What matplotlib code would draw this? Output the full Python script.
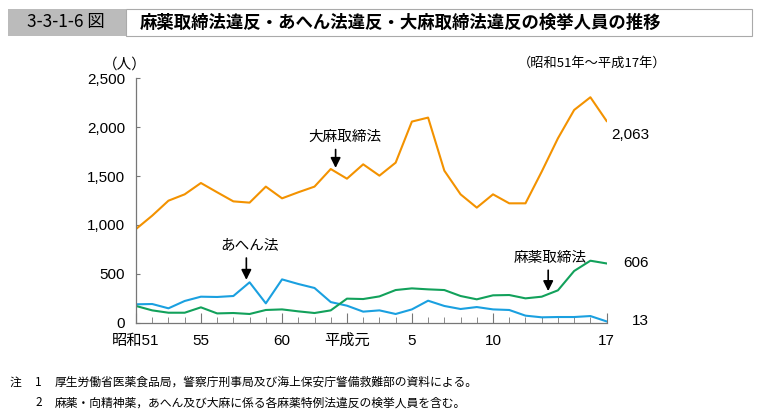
import matplotlib.pyplot as plt
from matplotlib.patches import Rectangle

plt.rcParams['font.family'] = ['Liberation Sans', 'Noto Sans CJK JP', 'DejaVu Sans']

years = list(range(1976, 2006))
taima = [958, 1095, 1248, 1313, 1429, 1334, 1241, 1228, 1392, 1272,
         1334, 1392, 1572, 1473, 1620, 1504, 1637, 2057, 2098, 1555,
         1313, 1177, 1313, 1221, 1221, 1545, 1886, 2176, 2306, 2063]
ahen = [188, 191, 147, 222, 266, 263, 273, 413, 198, 443,
        396, 355, 211, 174, 113, 126, 89, 136, 225, 171,
        140, 160, 136, 130, 72, 55, 58, 58, 68, 13]
mayaku = [171, 126, 102, 102, 157, 95, 99, 89, 130, 136,
          116, 99, 126, 246, 242, 269, 334, 351, 341, 334,
          273, 239, 280, 283, 249, 266, 331, 529, 634, 606]
tick_years = [1976, 1980, 1985, 1989, 1993, 1998, 2005]
tick_labels = ['昭和51', '55', '60', '平成元', '5', '10', '17']
yticks = [0, 500, 1000, 1500, 2000, 2500]
ytick_labels = ['0', '500', '1,000', '1,500', '2,000', '2,500']

c_orange = '#F39200'
c_blue = '#1AA0E0'
c_green = '#12A15B'
jp = ['Noto Sans CJK JP', 'DejaVu Sans']

fig = plt.figure(figsize=(7.64, 4.16), dpi=100)
ax = fig.add_axes([0.178, 0.2243, 0.616, 0.5875])

ax.plot(years, taima, color=c_orange, lw=1.5)
ax.plot(years, ahen, color=c_blue, lw=1.5)
ax.plot(years, mayaku, color=c_green, lw=1.5)

ax.set_xlim(1976, 2005)
ax.set_ylim(0, 2500)
for s in ['top', 'right']:
    ax.spines[s].set_visible(False)
for s in ['left', 'bottom']:
    ax.spines[s].set_color('#777777')
    ax.spines[s].set_linewidth(0.9)

ax.set_xticks(tick_years)
ax.set_xticklabels(tick_labels, fontsize=11)
ax.set_xticks(years, minor=True)
ax.tick_params(axis='x', which='major', direction='in', length=7, color='#777777', pad=8)
ax.tick_params(axis='x', which='minor', direction='in', length=4, color='#777777')
ax.set_yticks(yticks)
ax.set_yticklabels(ytick_labels, fontsize=11)
ax.tick_params(axis='y', direction='in', length=3, color='#777777', pad=8)

# end values
ax.annotate('2,063', (years[-1], taima[-1]), xytext=(3, -10), textcoords='offset points',
            fontsize=11, va='center', ha='left')
ax.annotate('606', (years[-1], mayaku[-1]), xytext=(12, 0), textcoords='offset points',
            fontsize=11, va='center', ha='left')
ax.annotate('13', (years[-1], ahen[-1]), xytext=(18, 0), textcoords='offset points',
            fontsize=11, va='center', ha='left')

# series labels with arrows
arrow = dict(arrowstyle='-|>', color='black', lw=1.2, mutation_scale=15)
ax.annotate('', xy=(1988.3, 1555), xytext=(1988.3, 1800), arrowprops=arrow)
ax.text(1988.9, 1830, '大麻取締法', fontsize=10.5, family=jp, ha='center', va='bottom')
ax.annotate('', xy=(1982.8, 410), xytext=(1982.8, 690), arrowprops=arrow)
ax.text(1983.0, 720, 'あへん法', fontsize=10.5, family=jp, ha='center', va='bottom')
ax.annotate('', xy=(2001.4, 295), xytext=(2001.4, 565), arrowprops=arrow)
ax.text(2001.5, 595, '麻薬取締法', fontsize=10.5, family=jp, ha='center', va='bottom')

# unit and period
fig.text(0.163, 0.845, '（人）', fontsize=10.5, family=jp, ha='center', va='center')
fig.text(0.872, 0.848, '（昭和51年～平成17年）', fontsize=9.5, family=jp, ha='right', va='center')

# title bar
fig.patches.append(Rectangle((8 / 764, 1 - 36 / 416), 118 / 764, 27 / 416,
                             transform=fig.transFigure, facecolor='#BBBBBB', edgecolor='none'))
fig.patches.append(Rectangle((126 / 764, 1 - 36 / 416), 626 / 764, 27 / 416,
                             transform=fig.transFigure, facecolor='white',
                             edgecolor='#AAAAAA', lw=0.8))
fig.text(66 / 764, 1 - 22.5 / 416, '3-3-1-6 図', fontsize=12.5, family=jp,
         ha='center', va='center')
fig.text(140 / 764, 1 - 22.5 / 416, '麻薬取締法違反・あへん法違反・大麻取締法違反の検挙人員の推移',
         fontsize=12.5, family=jp, ha='left', va='center', weight='bold')

# notes
fig.text(10 / 764, 1 - 382 / 416, '注', fontsize=8.5, family=jp, va='center')
fig.text(35 / 764, 1 - 382 / 416, '1', fontsize=8.5, family=jp, va='center')
fig.text(55 / 764, 1 - 382 / 416, '厚生労働省医薬食品局，警察庁刑事局及び海上保安庁警備救難部の資料による。',
         fontsize=8.5, family=jp, va='center')
fig.text(35 / 764, 1 - 403 / 416, '2', fontsize=8.5, family=jp, va='center')
fig.text(55 / 764, 1 - 403 / 416, '麻薬・向精神薬，あへん及び大麻に係る各麻薬特例法違反の検挙人員を含む。',
         fontsize=8.5, family=jp, va='center')

fig.savefig('out.png', dpi=100)
